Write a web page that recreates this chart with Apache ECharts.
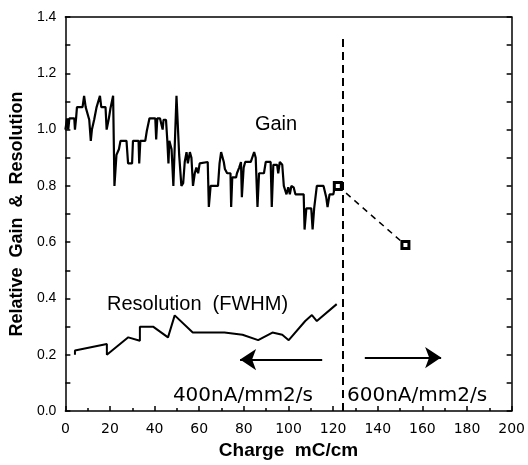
<!DOCTYPE html>
<html>
<head>
<meta charset="utf-8">
<script src="https://cdn.jsdelivr.net/npm/echarts@6/dist/echarts.min.js"></script>
<style>
    html, body { margin: 0; padding: 0; background: #fff; }
    #chart { width: 528px; height: 465px; }
</style>
</head>
<body>
<div id="chart"></div>
<script>
// gain (charge in mC/cm)
const gainCharge = [
    0, 0.8, 1.3, 1.8, 4.0, 4.3, 4.8, 5.2, 7.7, 8.4,
    9.1, 9.6, 10.7, 11.4, 11.9, 12.9, 14.0, 15.5, 16.1, 18.0,
    18.5, 19.5, 20.2, 21.4, 22.0, 22.9, 24.0, 24.7, 27.4, 28.1,
    29.9, 30.3, 32.8, 33.1, 33.6, 35.8, 36.5, 37.7, 40.3, 40.7,
    41.2, 42.4, 43.6, 44.0, 45.1, 45.7, 46.2, 46.6, 47.6, 48.4,
    49.1, 49.8, 51.0, 52.0, 52.8, 53.5, 54.3, 54.9, 55.8, 56.5,
    57.2, 58.0, 58.7, 59.5, 60.2, 63.8, 64.3, 65.1, 68.4, 69.1,
    69.8, 71.0, 71.5, 72.5, 74.0, 74.3, 74.8, 76.5, 76.9, 77.9,
    78.7, 79.1, 79.9, 80.6, 83.1, 84.6, 85.3, 86.1, 86.8, 89.0,
    89.8, 92.0, 92.5, 93.2, 94.9, 95.4, 96.1, 97.2, 97.9, 99.1,
    99.9, 100.6, 101.3, 102.3, 103.1, 106.8, 107.2, 108.0, 110.2, 110.8,
    111.5, 112.7, 115.7, 116.9, 117.5, 118.4, 120.1, 120.8, 122.1
];
const gainValue = [
    1.00, 1.04, 1.00, 1.04, 1.04, 1.00, 1.04, 1.08, 1.08, 1.12,
    1.08, 1.08, 1.035, 0.96, 1.00, 1.035, 1.08, 1.12, 1.08, 1.08,
    1.00, 1.04, 1.075, 1.12, 0.80, 0.91, 0.93, 0.96, 0.96, 0.88,
    0.88, 0.96, 0.96, 0.88, 0.96, 0.96, 0.995, 1.04, 1.04, 0.965,
    1.04, 1.04, 1.00, 1.035, 1.035, 0.96, 0.88, 0.96, 0.93, 0.80,
    0.96, 1.12, 0.91, 0.80, 0.81, 0.885, 0.92, 0.88, 0.92, 0.90,
    0.80, 0.845, 0.865, 0.845, 0.88, 0.885, 0.725, 0.80, 0.80, 0.88,
    0.92, 0.885, 0.86, 0.845, 0.845, 0.725, 0.83, 0.83, 0.845, 0.865,
    0.885, 0.76, 0.865, 0.885, 0.885, 0.92, 0.90, 0.725, 0.845, 0.845,
    0.885, 0.885, 0.725, 0.875, 0.875, 0.845, 0.885, 0.875, 0.80, 0.77,
    0.795, 0.77, 0.80, 0.795, 0.77, 0.77, 0.645, 0.72, 0.72, 0.645,
    0.72, 0.80, 0.80, 0.76, 0.725, 0.77, 0.77, 0.80, 0.80
];

// resolution (FWHM)
const resCharge = [4.3, 4.3, 18.6, 18.6, 28.2, 33.4, 33.4, 39.3, 46.0, 49.0, 57.1,
    71.3, 79.4, 86.4, 92.8, 97.2, 100.1, 107.5, 110.5, 112.7, 121.6];
const resValue = [0.20, 0.215, 0.238, 0.20, 0.262, 0.25, 0.30, 0.30, 0.262, 0.34, 0.279,
    0.279, 0.271, 0.252, 0.279, 0.271, 0.252, 0.32, 0.341, 0.32, 0.38];

// the two measured points at the higher rate
const highCharge = [122.1, 152.4];
const highGain = [0.80, 0.59];

// rate change boundary and arrows
const boundaryCharge = 124.4;
const boundaryTop = 1.34;
const leftArrow = [[115.1, 0.183], [78.3, 0.183]];
const rightArrow = [[134.2, 0.19], [168.4, 0.19]];

const xTicks = { min: 0, max: 200, step: 20 };
const yTicks = { min: 0, max: 1.4, step: 0.2 };

const zip = (a, b) => a.map((v, i) => [v, b[i]]);

const chart = echarts.init(document.getElementById('chart'), null, { renderer: 'canvas' });

const axisFont = { fontFamily: 'Liberation Sans', fontSize: 14, color: '#000' };

chart.setOption({
    animation: false,
    backgroundColor: '#fff',
    grid: { left: 63, right: 15, top: 17, bottom: 47, containLabel: false },
    xAxis: [
        {
            type: 'value',
            min: xTicks.min, max: xTicks.max, interval: xTicks.step,
            name: 'Charge  mC/cm',
            nameLocation: 'middle',
            nameGap: 28,
            nameTextStyle: { fontFamily: 'Liberation Sans', fontWeight: 'bold', fontSize: 19, color: '#000' },
            axisLine: { lineStyle: { color: '#000', width: 1.5 } },
            axisTick: { inside: true, length: 5, lineStyle: { color: '#000', width: 1.5 } },
            minorTick: { show: true, splitNumber: 2, length: 3, lineStyle: { color: '#000', width: 1.5 } },
            axisLabel: { margin: 11, fontFamily: 'DejaVu Sans', fontSize: 14, color: '#000' },
            splitLine: { show: false }
        },
        {
            type: 'value',
            position: 'top',
            min: xTicks.min, max: xTicks.max,
            axisLine: { show: true, onZero: false, lineStyle: { color: '#000', width: 1.5 } },
            axisTick: { show: false },
            axisLabel: { show: false },
            splitLine: { show: false }
        }
    ],
    yAxis: [
        {
            type: 'value',
            min: yTicks.min, max: yTicks.max, interval: yTicks.step,
            name: 'Relative  Gain  &  Resolution',
            nameLocation: 'middle',
            nameGap: 34,
            nameRotate: 90,
            nameTextStyle: { fontFamily: 'Liberation Sans', fontWeight: 'bold', fontSize: 18, color: '#000' },
            axisLine: { show: true, lineStyle: { color: '#000', width: 1.5 } },
            axisTick: { inside: true, length: 5, lineStyle: { color: '#000', width: 1.5 } },
            minorTick: { show: true, splitNumber: 2, length: 5, lineStyle: { color: '#000', width: 1.5 } },
            axisLabel: Object.assign({ margin: 9, formatter: v => v.toFixed(1) }, axisFont),
            splitLine: { show: false }
        },
        {
            type: 'value',
            position: 'right',
            min: yTicks.min, max: yTicks.max, interval: 0.1,
            axisLine: { show: true, onZero: false, lineStyle: { color: '#000', width: 1.5 } },
            axisTick: { inside: true, length: 5, lineStyle: { color: '#000', width: 1.5 } },
            axisLabel: { show: false },
            splitLine: { show: false }
        }
    ],
    series: [
        {
            name: 'Gain',
            type: 'line',
            data: zip(gainCharge, gainValue),
            showSymbol: false,
            lineStyle: { color: '#000', width: 2.2 },
            markLine: {
                silent: true,
                symbol: 'none',
                label: { show: false },
                lineStyle: { color: '#000', width: 2, type: [8, 5] },
                data: [[{ coord: [boundaryCharge, 0] }, { coord: [boundaryCharge, boundaryTop] }]]
            }
        },
        {
            name: 'Gain 600',
            type: 'line',
            data: zip(highCharge, highGain),
            symbol: 'rect',
            symbolSize: 7,
            itemStyle: { color: '#fff', borderColor: '#000', borderWidth: 3 },
            lineStyle: { color: '#000', width: 1.5, type: [6, 5] }
        },
        {
            name: 'Resolution',
            type: 'line',
            data: zip(resCharge, resValue),
            showSymbol: false,
            lineStyle: { color: '#000', width: 2 },
            markLine: {
                silent: true,
                symbol: ['none', 'arrow'],
                symbolSize: 16,
                label: { show: false },
                lineStyle: { color: '#000', width: 2, type: 'solid' },
                data: [
                    [{ coord: leftArrow[0] }, { coord: leftArrow[1] }],
                    [{ coord: rightArrow[0] }, { coord: rightArrow[1] }]
                ]
            }
        }
    ],
    graphic: [
        {
            type: 'text', x: 276, y: 124,
            style: { text: 'Gain', font: '20px "Liberation Sans"', fill: '#000', textAlign: 'center', textVerticalAlign: 'middle' }
        },
        {
            type: 'text', x: 107, y: 304,
            style: { text: 'Resolution  (FWHM)', font: '20px "Liberation Sans"', fill: '#000', textAlign: 'left', textVerticalAlign: 'middle' }
        },
        {
            type: 'text', x: 313, y: 396,
            style: { text: '400nA/mm2/s', font: '20px "DejaVu Sans"', fill: '#000', textAlign: 'right', textVerticalAlign: 'middle' }
        },
        {
            type: 'text', x: 347, y: 396,
            style: { text: '600nA/mm2/s', font: '20px "DejaVu Sans"', fill: '#000', textAlign: 'left', textVerticalAlign: 'middle' }
        }
    ]
});
</script>
</body>
</html>
